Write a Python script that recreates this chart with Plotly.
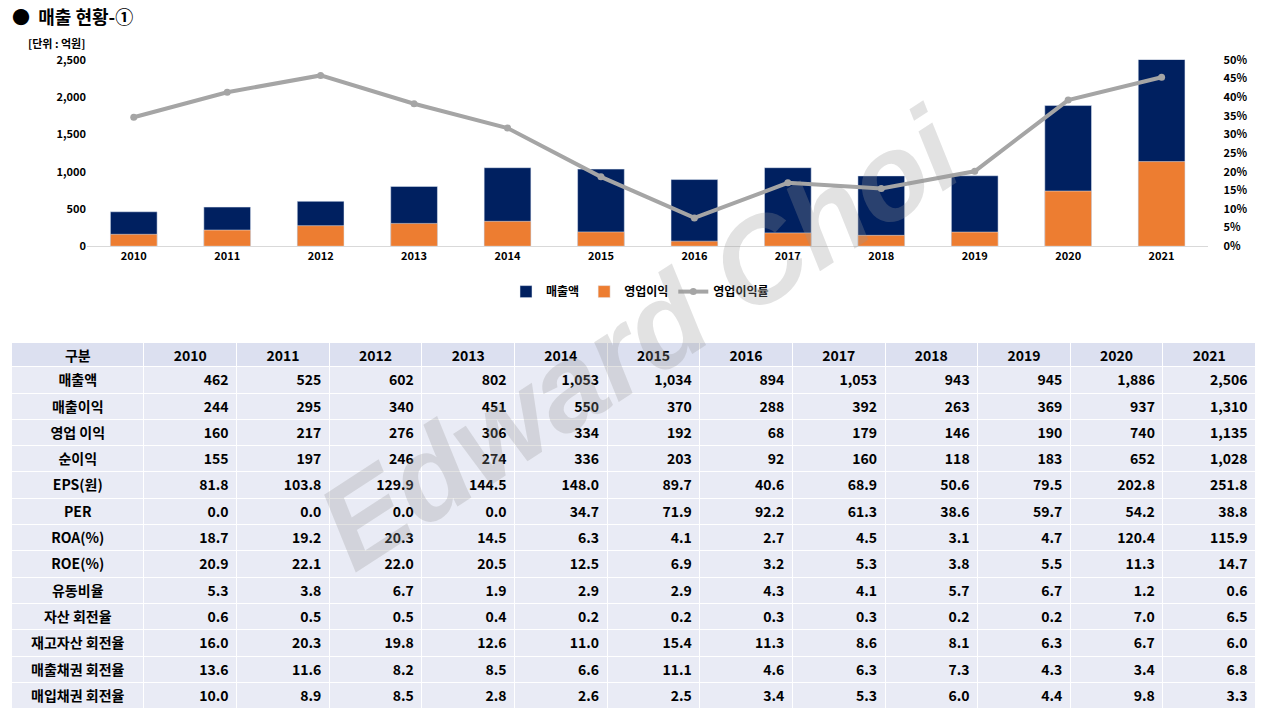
import plotly.graph_objects as go

years = ["2010", "2011", "2012", "2013", "2014", "2015", "2016", "2017", "2018", "2019", "2020", "2021"]
sales = [462, 525, 602, 802, 1053, 1034, 894, 1053, 943, 945, 1886, 2506]
gross = [244, 295, 340, 451, 550, 370, 288, 392, 263, 369, 937, 1310]
op = [160, 217, 276, 306, 334, 192, 68, 179, 146, 190, 740, 1135]
net = [155, 197, 246, 274, 336, 203, 92, 160, 118, 183, 652, 1028]
op_margin = [34.6, 41.3, 45.8, 38.2, 31.7, 18.6, 7.6, 17.0, 15.5, 20.1, 39.2, 45.3]
eps = [81.8, 103.8, 129.9, 144.5, 148.0, 89.7, 40.6, 68.9, 50.6, 79.5, 202.8, 251.8]
per = [0.0, 0.0, 0.0, 0.0, 34.7, 71.9, 92.2, 61.3, 38.6, 59.7, 54.2, 38.8]
roa = [18.7, 19.2, 20.3, 14.5, 6.3, 4.1, 2.7, 4.5, 3.1, 4.7, 120.4, 115.9]
roe = [20.9, 22.1, 22.0, 20.5, 12.5, 6.9, 3.2, 5.3, 3.8, 5.5, 11.3, 14.7]
current = [5.3, 3.8, 6.7, 1.9, 2.9, 2.9, 4.3, 4.1, 5.7, 6.7, 1.2, 0.6]
asset_turn = [0.6, 0.5, 0.5, 0.4, 0.2, 0.2, 0.3, 0.3, 0.2, 0.2, 7.0, 6.5]
inv_turn = [16.0, 20.3, 19.8, 12.6, 11.0, 15.4, 11.3, 8.6, 8.1, 6.3, 6.7, 6.0]
recv_turn = [13.6, 11.6, 8.2, 8.5, 6.6, 11.1, 4.6, 6.3, 7.3, 4.3, 3.4, 6.8]
pay_turn = [10.0, 8.9, 8.5, 2.8, 2.6, 2.5, 3.4, 5.3, 6.0, 4.4, 9.8, 3.3]

row_names = ["매출액", "매출이익", "영업 이익", "순이익", "EPS(원)", "PER", "ROA(%)", "ROE(%)",
             "유동비율", "자산 회전율", "재고자산 회전율", "매출채권 회전율", "매입채권 회전율"]

bold = dict(family="Noto Sans CJK KR", color="black", weight="bold")

fig = go.Figure()
fig.add_bar(x=years, y=sales, name="매출액", marker_color="#002060", width=0.5)
fig.add_bar(x=years, y=op, name="영업이익", marker_color="#ED7D31", width=0.5)
fig.add_scatter(x=years, y=op_margin, name="영업이익률", yaxis="y2", mode="lines+markers",
                line=dict(color="#A5A5A5", width=4), marker=dict(size=7, color="#A5A5A5"))

ints = lambda v: [f"{x:,}" for x in v]
dec = lambda v: [f"{x:,.1f}" for x in v]
data_rows = [ints(sales), ints(gross), ints(op), ints(net), dec(eps), dec(per), dec(roa), dec(roe),
             dec(current), dec(asset_turn), dec(inv_turn), dec(recv_turn), dec(pay_turn)]
cols = [row_names] + [[r[i] for r in data_rows] for i in range(len(years))]

fig.add_trace(go.Table(
    domain=dict(x=[0.009, 0.981], y=[0.0, 0.524]),
    columnwidth=[133] + [93] * 12,
    header=dict(values=["구분"] + years, fill_color="#DCE0F0", line_color="white",
                align="center", height=24, font=dict(size=14, **bold)),
    cells=dict(values=cols, fill_color="#E9EBF5", line_color="white",
               align=["center"] + ["right"] * 12, height=26.3,
               font=dict(size=14, **bold)),
))

fig.update_layout(
    width=1280, height=720, barmode="overlay", plot_bgcolor="white", paper_bgcolor="white",
    margin=dict(l=0, r=0, t=0, b=0), showlegend=True,
    font=dict(size=11, **bold),
    xaxis=dict(domain=[0.068, 0.944], range=[-0.5, 11.5], showline=True, linecolor="#D9D9D9",
               automargin=False),
    yaxis=dict(domain=[0.658, 0.917], range=[0, 2500], dtick=500, tickformat=",", showgrid=False,
               zeroline=False, automargin=False),
    yaxis2=dict(overlaying="y", side="right", range=[0, 50], dtick=5, ticksuffix="%", showgrid=False,
                zeroline=False, automargin=False, ticks="outside", ticklen=12, tickcolor="white"),
    legend=dict(orientation="h", x=0.5, xanchor="center", y=0.595, yanchor="middle",
                font=dict(size=12, family="Noto Sans CJK KR", color="black")),
    annotations=[
        dict(text="●  매출 현황-①", x=0.008, y=0.978, xref="paper", yref="paper",
             xanchor="left", yanchor="middle", showarrow=False, font=dict(size=18)),
        dict(text="[단위 : 억원]", x=0.02, y=0.94, xref="paper", yref="paper",
             xanchor="left", yanchor="middle", showarrow=False, font=dict(size=11)),
        dict(text="<i>Edward Choi</i>", x=0.5, y=0.53, xref="paper", yref="paper",
             showarrow=False, textangle=-33,
             font=dict(size=120, color="rgba(150,150,150,0.28)", family="Liberation Sans",
                       weight="bold")),
    ],
)

fig.write_html("out.html", config={"displayModeBar": False},
               post_script="document.body.style.margin='0';")
